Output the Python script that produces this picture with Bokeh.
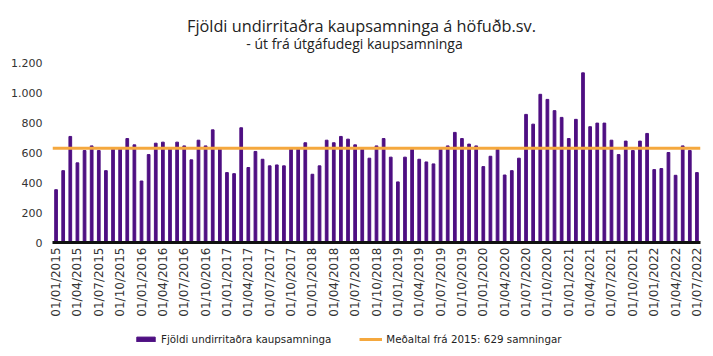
import math
import pandas as pd
from bokeh.plotting import figure
from bokeh.layouts import column
from bokeh.models import (FixedTicker, Label, Legend, LegendItem,
                          ColumnDataSource, Range1d)
from bokeh.embed import file_html
from bokeh.resources import INLINE

# ---- data ----
months = pd.date_range("2015-01-01", "2022-07-01", freq="MS")
month_labels = [d.strftime("%d/%m/%Y") for d in months]

contracts = [
    352, 479, 707, 531, 613, 644, 613, 479, 622, 622, 693, 651,   # 2015
    410, 586, 662, 669, 622, 669, 644, 551, 682, 644, 751, 622,   # 2016
    466, 459, 765, 500, 607, 555, 511, 517, 511, 622, 622, 665,   # 2017
    455, 511, 682, 665, 707, 689, 651, 622, 562, 644, 693, 569,   # 2018
    404, 569, 622, 555, 537, 524, 622, 644, 734, 693, 656, 644,   # 2019
    506, 575, 620, 450, 479, 562, 854, 789, 988, 954, 879, 834,   # 2020
    693, 821, 1131, 772, 796, 796, 682, 586, 676, 613, 676, 727,  # 2021
    486, 493, 600, 448, 644, 613, 466,                            # 2022
]
average = 629

y_ticks = [0, 200, 400, 600, 800, 1000, 1200]
y_tick_labels = ["0", "200", "400", "600", "800", "1.000", "1.200"]

title_main = "Fjöldi undirritaðra kaupsamninga á höfuðb.sv."
title_sub = "- út frá útgáfudegi kaupsamninga"
bar_label = "Fjöldi undirritaðra kaupsamninga"
avg_label = "Meðaltal frá 2015: 629 samningar"

BAR_COLOR = "#4E0F82"
AVG_COLOR = "#F5A83E"
FONT = "DejaVu Sans"
TFONT = "Open Sans"

idx = list(range(len(contracts)))
src = ColumnDataSource(dict(x=idx, y=contracts, label=month_labels))
avg_x = [idx[0] - 0.5, idx[-1] + 0.5]
avg_y = [average, average]

# frame reaches the top of the canvas; the title sits in the headroom
FRAME_H = 242
PLOT_H = 180        # pixels used by the 0..1200 value span
BOTTOM = 130        # reserved below the frame for the date labels
LEGEND_H = 27       # strip holding the legend
LEGEND_TOP = 329    # page y where the legend strip starts

p = figure(frame_width=648, frame_height=FRAME_H,
           output_backend="svg", toolbar_location=None,
           title=None,
           x_range=Range1d(-0.5, len(contracts) - 0.5),
           y_range=Range1d(0, y_ticks[-1] * FRAME_H / PLOT_H),
           min_border_left=52, min_border_right=13,
           min_border_top=0, min_border_bottom=BOTTOM)
p.outline_line_color = None
p.grid.visible = False
p.background_fill_color = "white"
p.border_fill_color = "white"

bars = p.vbar(x="x", top="y", width=0.38, source=src,
              fill_color=BAR_COLOR, line_color=BAR_COLOR)
avg_line = p.line(x=avg_x, y=avg_y, line_color=AVG_COLOR, line_width=3)

# x axis
p.xaxis.ticker = FixedTicker(ticks=idx[::3])
p.xaxis.major_label_overrides = {i: month_labels[i] for i in idx[::3]}
p.xaxis.major_label_orientation = math.pi / 2
p.xaxis.axis_line_color = "#111111"
p.xaxis.axis_line_width = 3
p.xaxis.major_tick_line_color = None
p.xaxis.minor_tick_line_color = None
p.xaxis.major_tick_in = 0
p.xaxis.major_tick_out = 0
p.xaxis.major_label_text_font = FONT
p.xaxis.major_label_text_font_size = "12px"
p.xaxis.major_label_text_color = "#333333"
p.xaxis.major_label_standoff = 5

# y axis
p.yaxis.ticker = FixedTicker(ticks=y_ticks)
p.yaxis.major_label_overrides = dict(zip(y_ticks, y_tick_labels))
p.yaxis.axis_line_color = None
p.yaxis.major_tick_line_color = None
p.yaxis.minor_tick_line_color = None
p.yaxis.major_tick_in = 0
p.yaxis.major_tick_out = 0
p.yaxis.major_label_text_font = FONT
p.yaxis.major_label_text_font_size = "11px"
p.yaxis.major_label_text_color = "#333333"
p.yaxis.major_label_standoff = 10

# titles as screen-positioned labels (relative to the plot frame)
p.add_layout(Label(x=309, y=FRAME_H - 25, x_units="screen", y_units="screen",
                   text=title_main, text_align="center",
                   text_baseline="alphabetic", text_font=TFONT,
                   text_font_size="16.3px", text_color="#222222"))
p.add_layout(Label(x=302, y=FRAME_H - 42.5, x_units="screen", y_units="screen",
                   text=title_sub, text_align="center",
                   text_baseline="alphabetic", text_font=TFONT,
                   text_font_size="14px", text_color="#222222"))

# ---- legend strip: a second figure pulled up under the date labels ----
# its renderers reuse the same data but their y-range lies above every value,
# so only the legend swatches show
leg = figure(width=713, height=LEGEND_H, output_backend="svg",
             toolbar_location=None, title=None,
             x_range=Range1d(-0.5, len(contracts) - 0.5),
             y_range=Range1d(5000, 5001),
             x_axis_location=None, y_axis_location=None,
             min_border=0)
leg.outline_line_color = None
leg.grid.visible = False
leg.background_fill_alpha = 0
leg.border_fill_alpha = 0
leg_bar = leg.vbar(x="x", top="y", width=0.38, source=src,
                   fill_color=BAR_COLOR, line_color=BAR_COLOR)
leg_line = leg.line(x=avg_x, y=avg_y, line_color=AVG_COLOR, line_width=3)

legend = Legend(items=[LegendItem(label=bar_label, renderers=[leg_bar]),
                       LegendItem(label=avg_label, renderers=[leg_line])],
                orientation="horizontal", location=(82, 11),
                border_line_color=None, background_fill_alpha=0,
                spacing=28, glyph_width=23, glyph_height=6,
                label_text_font=FONT, label_text_font_size="10.3px",
                label_text_color="#222222", label_standoff=4,
                padding=0, margin=0)
leg.add_layout(legend)
leg.margin = (LEGEND_TOP - (FRAME_H + BOTTOM), 0, 0, 0)

layout = column(p, leg, spacing=0)

open("out.html", "w").write(file_html(layout, INLINE))
